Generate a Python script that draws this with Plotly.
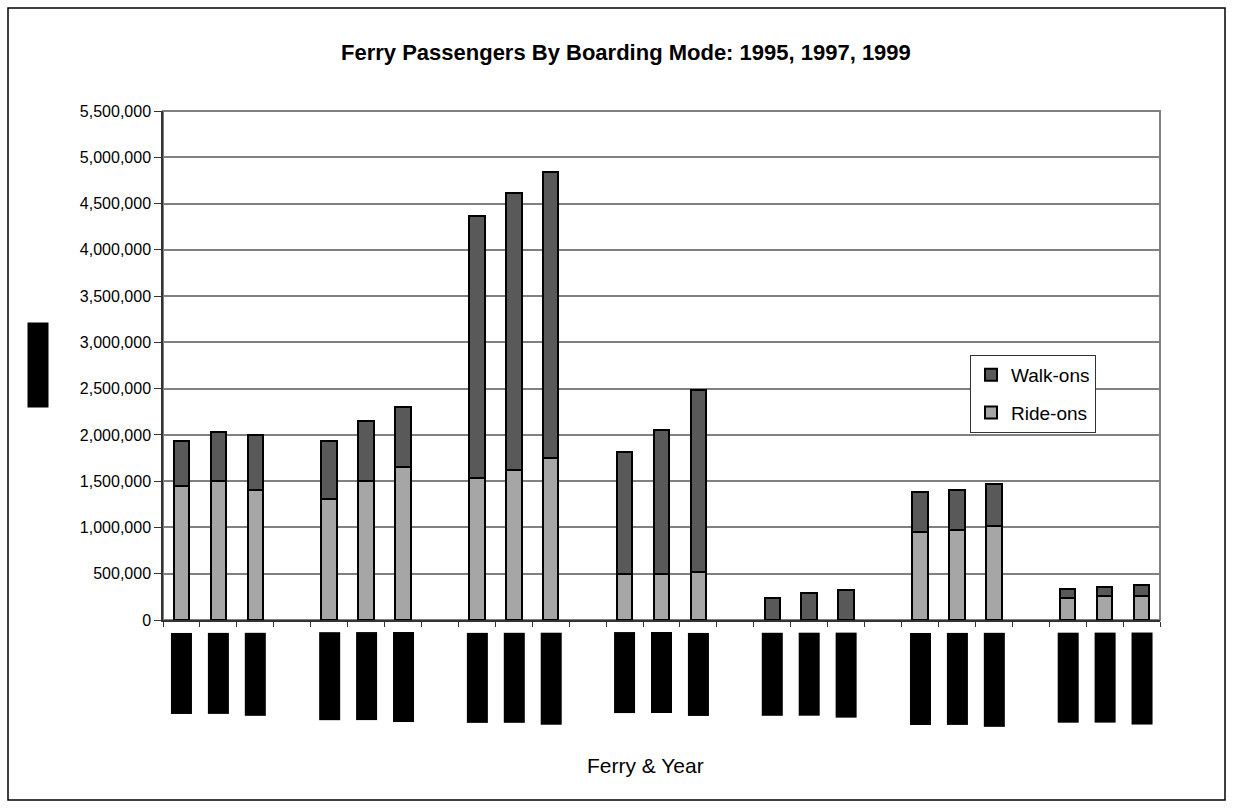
import plotly.graph_objects as go

# Ferry routes and survey years
ferries = ["Route 1", "Route 2", "Route 3", "Route 4", "Route 5", "Route 6", "Route 7"]
years = ["1995", "1997", "1999"]

# Passengers boarding on foot and by vehicle, per ferry and year
walk_ons = [
    480000, 530000, 595000,
    625000, 645000, 650000,
    2835000, 2990000, 3090000,
    1320000, 1555000, 1970000,
    241000, 288000, 328000,
    440000, 436000, 454000,
    95000, 97000, 115000,
]
ride_ons = [
    1450000, 1500000, 1405000,
    1305000, 1500000, 1648000,
    1530000, 1620000, 1754000,
    500000, 498000, 515000,
    0, 0, 0,
    947000, 972000, 1019000,
    236000, 263000, 263000,
]

# Lengths (px) of the label boxes under each bar
label_len = [76, 76, 78, 83, 83, 85, 85, 85, 87, 76, 76, 78,
             78, 78, 80, 87, 87, 89, 85, 85, 87]

W, H = 1233, 809
L, R, T, B = 163, 73, 111, 189
PW, PH = W - L - R, H - T - B

# Bar positions: three years per ferry, one empty slot between ferries
xpos, labels = [], []
for g, f in enumerate(ferries):
    for i, yr in enumerate(years):
        xpos.append(g * 4 + i)
        labels.append(f"{f} {yr}")
n_slots = len(ferries) * 4 - 1

ride_col = "#A6A6A6"
walk_col = "#595959"

fig = go.Figure()
fig.add_trace(go.Bar(x=xpos, y=ride_ons, name="Ride-ons", width=0.42,
                     legendgroup="ride", legendrank=2,
                     marker=dict(color=ride_col, line=dict(color="black", width=2))))
fig.add_trace(go.Bar(x=xpos, y=walk_ons, name="Walk-ons", width=0.42,
                     legendgroup="walk", legendrank=1,
                     marker=dict(color=walk_col, line=dict(color="black", width=2))))


def px_x(p):
    return (p - L) / PW


def px_y(p):
    return (H - B - p) / PH


annotations = []
# category labels under the axis, printed black on black
for x, lab, ln in zip(xpos, labels, label_len):
    annotations.append(dict(
        x=x, xref="x", y=px_y(632), yref="paper", xanchor="center", yanchor="top",
        text=lab, textangle=-90, showarrow=False, width=ln, height=16,
        bgcolor="black", borderpad=2, font=dict(family="Arial", size=12, color="black")))

# vertical axis title, printed black on black
annotations.append(dict(
    x=px_x(38), xref="paper", y=px_y(365), yref="paper", xanchor="center", yanchor="middle",
    text="Passengers", textangle=-90, showarrow=False, width=80, height=16,
    bgcolor="black", borderpad=2, font=dict(family="Arial", size=12, color="black")))

# chart title
annotations.append(dict(
    x=px_x(626), xref="paper", y=px_y(52), yref="paper", xanchor="center", yanchor="middle",
    text="<b>Ferry Passengers By Boarding Mode: 1995, 1997, 1999</b>", showarrow=False,
    font=dict(family="Arial", size=22, color="black")))

# horizontal axis title
annotations.append(dict(
    x=px_x(645), xref="paper", y=px_y(765), yref="paper", xanchor="center", yanchor="middle",
    text="Ferry & Year", showarrow=False,
    font=dict(family="Arial", size=21, color="black")))

shapes = [
    # outer chart frame
    dict(type="rect", xref="paper", yref="paper",
         x0=px_x(8), x1=px_x(1225), y0=px_y(800), y1=px_y(8),
         line=dict(color="black", width=1.5), layer="below"),
    # plot area frame
    dict(type="rect", xref="paper", yref="paper", x0=0, x1=1, y0=0, y1=1,
         line=dict(color="#808080", width=2), layer="below"),
]

fig.update_layout(
    width=W, height=H,
    margin=dict(l=L, r=R, t=T, b=B, autoexpand=False),
    barmode="stack",
    paper_bgcolor="white", plot_bgcolor="white",
    showlegend=True,
    legend=dict(x=px_x(970), y=px_y(355), xanchor="left", yanchor="top",
                traceorder="grouped", bgcolor="white",
                bordercolor="#333333", borderwidth=1,
                font=dict(family="Arial", size=19, color="black"),
                itemsizing="constant", tracegroupgap=10, itemwidth=30),
    annotations=annotations,
    shapes=shapes,
    font=dict(family="Arial", color="black"),
)

fig.update_xaxes(
    range=[-0.5, n_slots - 0.5],
    tickvals=[k - 0.5 for k in range(n_slots + 1)],
    ticktext=[""] * (n_slots + 1),
    ticks="outside", ticklen=5, tickcolor="#333333", tickwidth=1,
    showgrid=False, zeroline=False,
    showline=True, linecolor="#333333", linewidth=1.5,
)
fig.update_yaxes(
    range=[0, 5500000],
    tickvals=[k * 500000 for k in range(12)],
    tickformat=",d",
    ticks="outside", ticklen=7, tickcolor="#333333", tickwidth=1,
    tickfont=dict(family="Arial", size=16, color="black"),
    showgrid=True, gridcolor="#808080", gridwidth=1.5,
    zeroline=False,
    showline=True, linecolor="#333333", linewidth=1.5,
)

fig.write_html("out.html")
